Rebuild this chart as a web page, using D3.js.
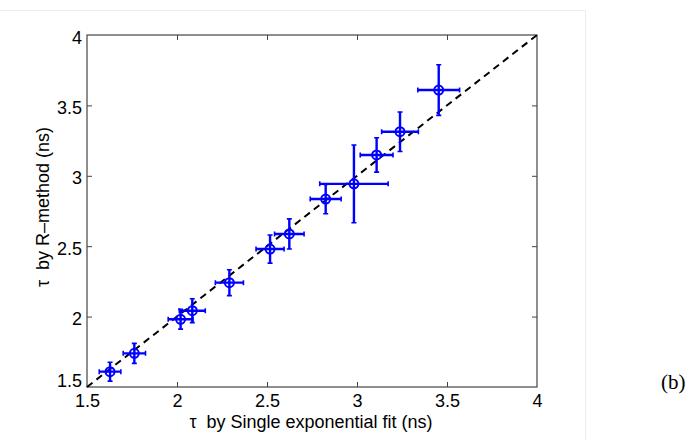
<!DOCTYPE html>
<html><head><meta charset="utf-8">
<script src="https://cdn.jsdelivr.net/npm/d3@7"></script>
<style>body{margin:0;background:#fff;} svg{display:block;}</style>
</head><body>
<script>
// Data (ns)
const xSingle = [1.628, 1.763, 2.020, 2.085, 2.291, 2.517, 2.624, 2.826, 2.983, 3.109, 3.239, 3.454];
const yRmethod = [1.609, 1.739, 1.981, 2.042, 2.241, 2.480, 2.587, 2.835, 2.943, 3.148, 3.313, 3.609];
const xErr = [0.060, 0.062, 0.069, 0.072, 0.078, 0.078, 0.082, 0.086, 0.190, 0.091, 0.102, 0.116];
const yErr = [0.067, 0.071, 0.070, 0.085, 0.092, 0.100, 0.107, 0.104, 0.276, 0.122, 0.140, 0.180];
const tickValues = [1.5, 2, 2.5, 3, 3.5, 4];
const tickLabels = ["1.5", "2", "2.5", "3", "3.5", "4"];
const xLabel = "τ\u00a0 by Single exponential fit (ns)";
const yLabel = "τ\u00a0 by R\u2013method (ns)";
const panelLabel = "(b)";

const W = 691, H = 440;
const m = {left: 87, top: 35, right: 537, bottom: 387};
const svg = d3.select("body").append("svg").attr("width", W).attr("height", H);

// faint page border
svg.append("path").attr("d", `M0,10.5H585.5V440`).attr("fill","none").attr("stroke","#ececec").attr("stroke-width",1);

const x = d3.scaleLinear().domain([1.5, 4]).range([m.left, m.right]);
const y = d3.scaleLinear().domain([1.5, 4]).range([m.bottom, m.top]);
const fmt = (d) => tickLabels[tickValues.indexOf(d)];
const font = "Liberation Sans, Arial, Helvetica, sans-serif";
const axisColor = "#444";
const fs = 18;

function styleAxis(g, hideText){
  g.select(".domain").remove();
  g.selectAll(".tick line").attr("stroke", axisColor).attr("stroke-width", 1);
  g.selectAll(".tick text").attr("font-family", font).attr("font-size", fs).attr("fill", "#000");
  if (hideText) g.selectAll(".tick text").remove();
}
const inner = [2, 2.5, 3, 3.5];
// bottom
svg.append("g").attr("transform", `translate(0,${m.bottom})`)
  .call(d3.axisBottom(x).tickValues(tickValues).tickFormat(fmt).tickSizeInner(-5).tickSizeOuter(0).tickPadding(7))
  .call(g => styleAxis(g, false))
  .call(g => g.selectAll(".tick").filter(d => d === 1.5 || d === 4).select("line").remove());
// left
svg.append("g").attr("transform", `translate(${m.left},0)`)
  .call(d3.axisLeft(y).tickValues(tickValues).tickFormat(fmt).tickSizeInner(-5).tickSizeOuter(0).tickPadding(5))
  .call(g => styleAxis(g, false))
  .call(g => g.selectAll(".tick text").attr("dy", d => d === 1.5 ? "-0.05em" : "0.45em"))
  .call(g => g.selectAll(".tick").filter(d => d === 1.5 || d === 4).select("line").remove());
// top
svg.append("g").attr("transform", `translate(0,${m.top})`)
  .call(d3.axisTop(x).tickValues(inner).tickSizeInner(-5).tickSizeOuter(0))
  .call(g => styleAxis(g, true));
// right
svg.append("g").attr("transform", `translate(${m.right},0)`)
  .call(d3.axisRight(y).tickValues(inner).tickSizeInner(-5).tickSizeOuter(0))
  .call(g => styleAxis(g, true));
// frame
svg.append("rect").attr("x", m.left).attr("y", m.top).attr("width", m.right - m.left).attr("height", m.bottom - m.top)
  .attr("fill", "none").attr("stroke", axisColor).attr("stroke-width", 1.2);

// dashed identity line
svg.append("line").attr("x1", x(1.5)).attr("y1", y(1.5)).attr("x2", x(4)).attr("y2", y(4))
  .attr("stroke", "#000").attr("stroke-width", 2).attr("stroke-dasharray", "7,5");

const data = xSingle.map((d, i) => ({x: d, y: yRmethod[i], ex: xErr[i], ey: yErr[i]}));
const blue = "#0000ff";
const g = svg.append("g").attr("stroke", blue).attr("fill", "none");
const cap = 2.5;
data.forEach(d => {
  const cx = x(d.x), cy = y(d.y);
  const x0 = x(d.x - d.ex), x1 = x(d.x + d.ex), y0 = y(d.y - d.ey), y1 = y(d.y + d.ey);
  g.append("path").attr("stroke-width", 2.4)
    .attr("d", `M${x0},${cy}H${x1}M${cx},${y0}V${y1}`);
  g.append("path").attr("stroke-width", 1.6)
    .attr("d", `M${x0},${cy-cap}V${cy+cap}M${x1},${cy-cap}V${cy+cap}M${cx-cap},${y0}H${cx+cap}M${cx-cap},${y1}H${cx+cap}`);
  g.append("circle").attr("cx", cx).attr("cy", cy).attr("r", 4.5).attr("stroke-width", 2);
});

// labels
svg.append("text").attr("x", 311).attr("y", 428).attr("text-anchor", "middle")
  .attr("font-family", font).attr("font-size", fs).text(xLabel);
svg.append("text").attr("transform", `translate(49,207) rotate(-90)`).attr("text-anchor", "middle")
  .attr("font-family", font).attr("font-size", fs).text(yLabel);
svg.append("text").attr("x", 661).attr("y", 389).attr("font-family", "Liberation Serif, Times New Roman, serif")
  .attr("font-size", 21).text(panelLabel);
</script>
</body></html>
